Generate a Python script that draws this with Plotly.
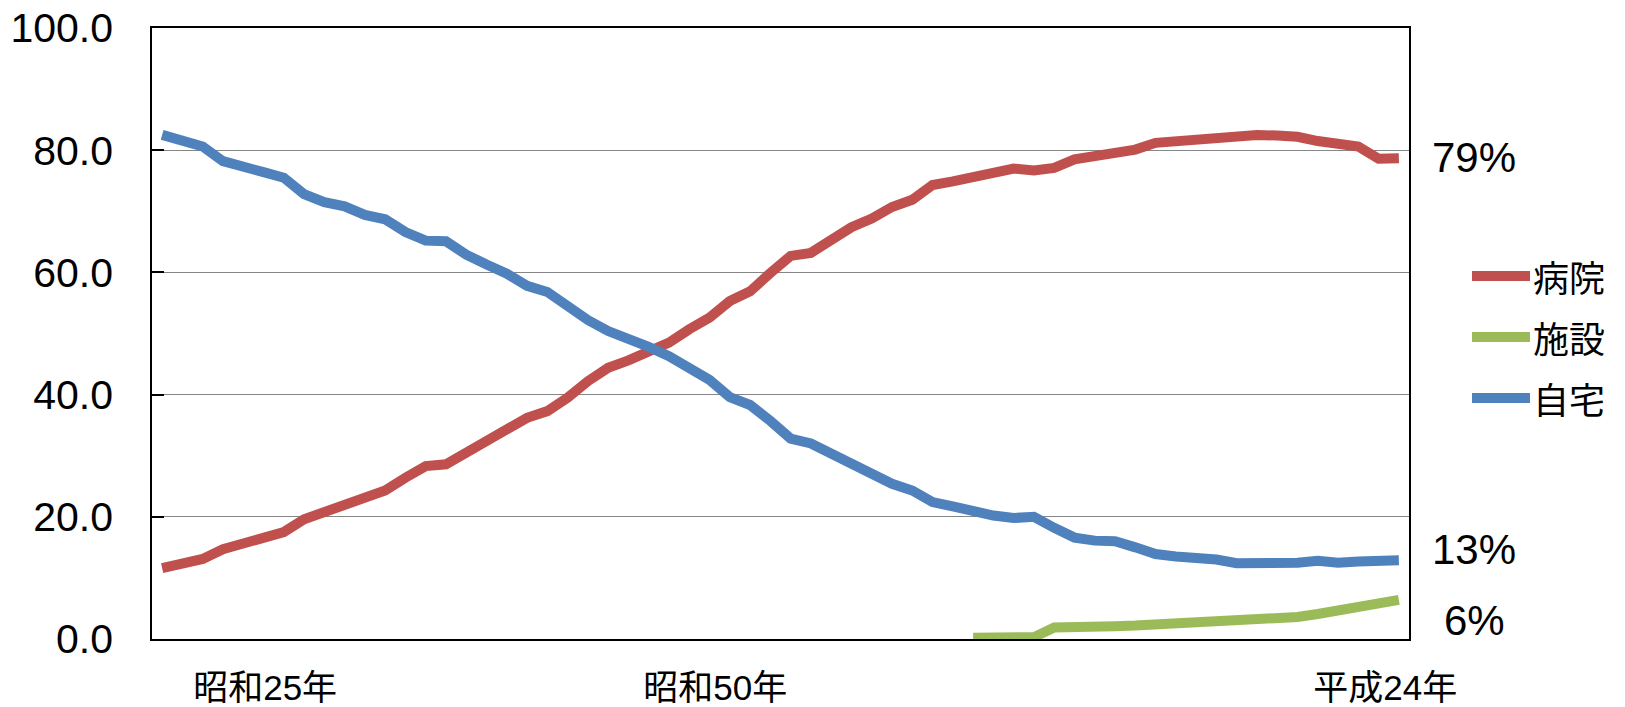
import plotly.graph_objects as go

years = list(range(1951, 2013))

hospital = [11.6, 12.5, 13.1, 14.7, 15.7, 16.5, 17.5, 19.6, 20.7, 21.8,
            23.2, 24.3, 26.4, 28.3, 28.6, 30.6, 32.4, 34.3, 36.2, 37.3,
            39.5, 42.2, 44.4, 45.6, 46.9, 48.5, 50.7, 52.6, 55.3, 56.9,
            59.9, 62.7, 63.2, 65.2, 67.4, 68.8, 70.7, 71.9, 74.3, 74.9,
            75.7, 76.6, 77.0, 76.7, 77.1, 78.5, 79.0, 79.2, 80.1, 81.2,
            81.5, 81.7, 81.9, 82.4, 82.5, 82.4, 82.2, 81.5, 81.2, 80.6,
            78.6, 78.7]

home = [82.5, 81.6, 80.6, 78.2, 77.1, 76.4, 75.5, 72.8, 71.5, 70.8,
        69.4, 68.7, 66.6, 65.2, 65.1, 62.9, 61.3, 59.8, 57.8, 56.8,
        54.5, 52.2, 50.4, 49.3, 47.8, 46.3, 44.2, 42.4, 39.6, 38.3,
        35.7, 32.8, 32.0, 30.3, 28.4, 27.0, 25.4, 24.3, 22.4, 21.7,
        20.9, 20.2, 19.8, 20.0, 18.2, 16.6, 16.1, 16.0, 15.0, 13.9,
        13.5, 13.4, 13.0, 12.4, 12.3, 12.3, 12.5, 12.8, 12.5, 12.7,
        12.6, 12.9]

facility = [None] * 40 + [0.2, 0.2, 0.2, 0.3, 1.9, 2.1, 2.1, 2.1, 2.2, 2.4,
                          2.5, 2.6, 2.7, 2.9, 3.0, 3.3, 3.6, 4.1, 4.6, 5.1,
                          5.7, 6.4]

series_names = ["病院", "施設", "自宅"]
series_colors = ["#C0504D", "#9BBB59", "#4F81BD"]
end_labels = ["79%", "13%", "6%"]

x_tick_years = [1956.08, 1978.28, 2011.33]
x_tick_text = ["昭和25年", "昭和50年", "平成24年"]
y_ticks = [0, 20, 40, 60, 80, 100]

LAT = "Liberation Sans, Arial, Noto Sans CJK JP"
JP = "Liberation Sans, Noto Sans CJK JP"

W, H = 1625, 707
ML, MR, MT, MB = 152, 216, 28, 68
plot_w = W - ML - MR
plot_h = H - MT - MB


def px_x(x):
    return (x - ML) / plot_w


def px_y(y):
    return (H - MB - y) / plot_h


fig = go.Figure()
for name, vals, col in [(series_names[0], hospital, series_colors[0]),
                        (series_names[1], facility, series_colors[1]),
                        (series_names[2], home, series_colors[2])]:
    fig.add_trace(go.Scatter(x=years, y=vals, mode="lines", name=name,
                             line=dict(color=col, width=10),
                             connectgaps=False, showlegend=False))

fig.update_layout(
    width=W, height=H,
    margin=dict(l=ML, r=MR, t=MT, b=MB),
    paper_bgcolor="white", plot_bgcolor="white",
    showlegend=False,
)
fig.update_xaxes(
    range=[1950.5, 2012.5], automargin=False,
    tickmode="array", tickvals=x_tick_years, ticktext=x_tick_text,
    tickfont=dict(family=JP, size=35, color="black"),
    showgrid=False, zeroline=False,
    showline=True, linecolor="black", linewidth=1.5, mirror=True,
    ticks="", ticklabelstandoff=17,
)
fig.update_yaxes(
    range=[0, 100], automargin=False,
    tickmode="array", tickvals=y_ticks,
    ticktext=[f"{v:.1f}" for v in y_ticks],
    tickfont=dict(family=LAT, size=41, color="black"),
    showgrid=True, gridcolor="#868686", gridwidth=1.2,
    zeroline=False,
    showline=True, linecolor="black", linewidth=1.5, mirror=True,
    ticks="inside", ticklen=12, tickcolor="black", tickwidth=1.5,
    ticklabelstandoff=29,
)

# end-value labels
for txt, ypix in zip(end_labels, [157, 549, 620]):
    fig.add_annotation(x=px_x(1474), xref="paper", y=px_y(ypix), yref="paper",
                       text=txt, showarrow=False, xanchor="center", yanchor="middle",
                       font=dict(family=LAT, size=42, color="black"))

# manual legend
for name, col, ypix in zip(series_names, series_colors, [276, 337, 398]):
    fig.add_shape(type="line", xref="paper", yref="paper",
                  x0=px_x(1472), x1=px_x(1530), y0=px_y(ypix), y1=px_y(ypix),
                  line=dict(color=col, width=10))
    fig.add_annotation(x=px_x(1531), y=px_y(ypix), xref="paper", yref="paper",
                       text=name, showarrow=False, xanchor="left", yanchor="middle",
                       font=dict(family="Noto Sans CJK JP", size=36, color="black"))

fig.write_html("out.html")
